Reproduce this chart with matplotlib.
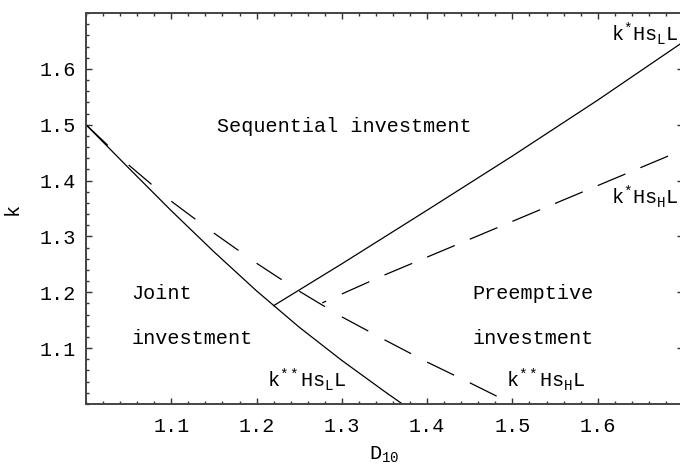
import matplotlib
matplotlib.use("Agg")
import matplotlib.pyplot as plt
from matplotlib.ticker import MultipleLocator

plt.rcParams.update({
    "font.family": "Liberation Mono",
    "mathtext.fontset": "custom",
    "mathtext.rm": "Liberation Mono",
    "mathtext.it": "Liberation Mono",
    "mathtext.tt": "Liberation Mono",
    "mathtext.bf": "Liberation Mono:bold",
    "lines.scale_dashes": False,
})

# ---- data ----
# k**(s_L): solid, joint/sequential boundary
d_kssL = [1.0, 1.05, 1.1, 1.15, 1.2, 1.25, 1.3, 1.35, 1.371]
k_kssL = [1.5, 1.4225, 1.346, 1.2725, 1.2025, 1.1375, 1.078, 1.0225, 1.0]
# k**(s_H): dashed
d_kssH = [1.0, 1.05, 1.1, 1.15, 1.2, 1.25, 1.3, 1.35, 1.4, 1.45, 1.5]
k_kssH = [1.5, 1.428, 1.363, 1.306, 1.252, 1.202, 1.156, 1.115, 1.075, 1.038, 1.0]
# k*(s_L): solid, sequential/preemptive boundary
d_ksL = [1.22, 1.3, 1.4, 1.5, 1.6, 1.7]
k_ksL = [1.176, 1.251, 1.347, 1.444, 1.544, 1.648]
# k*(s_H): dashed
d_ksH = [1.277, 1.3, 1.35, 1.4, 1.45, 1.5, 1.55, 1.6, 1.65, 1.7]
k_ksH = [1.181, 1.197, 1.231, 1.263, 1.295, 1.327, 1.359, 1.391, 1.423, 1.455]

x_ticks = [1.1, 1.2, 1.3, 1.4, 1.5, 1.6]
y_ticks = [1.1, 1.2, 1.3, 1.4, 1.5, 1.6]

fig = plt.figure(figsize=(6.8, 4.65), dpi=100)
ax = fig.add_axes([86 / 680, 1 - 404 / 465, 597 / 680, 391 / 465])
ax.set_xlim(1.0, 1.7)
ax.set_ylim(1.0, 1.7)

lw = 0.9
ax.plot(d_kssL, k_kssL, color="black", lw=lw)
ax.plot(d_ksL, k_ksL, color="black", lw=lw)

dash = (21.6, 300)
for i in range(len(d_kssH) - 1):
    ax.plot(d_kssH[i:i + 2], k_kssH[i:i + 2], color="black", lw=lw,
            linestyle=(0, dash))
for i in range(len(d_ksH) - 1):
    off = 18.5 if i == 0 else 0
    ax.plot(d_ksH[i:i + 2], k_ksH[i:i + 2], color="black", lw=lw,
            linestyle=(off, dash))

fs = 14.5
ax.text(1.1534, 1.4875, "Sequential investment", fontsize=fs, ha="left", va="baseline")
ax.text(1.053, 1.1874, "Joint", fontsize=fs, ha="left", va="baseline")
ax.text(1.053, 1.1069, "investment", fontsize=fs, ha="left", va="baseline")
ax.text(1.453, 1.1874, "Preemptive", fontsize=fs, ha="left", va="baseline")
ax.text(1.453, 1.1069, "investment", fontsize=fs, ha="left", va="baseline")
ax.text(1.6944, 1.649, r"k$^{*}$Hs$_{\mathrm{L}}$L", fontsize=fs, ha="right", va="baseline")
ax.text(1.6944, 1.358, r"k$^{*}$Hs$_{\mathrm{H}}$L", fontsize=fs, ha="right", va="baseline")
ax.text(1.212, 1.030, r"k$^{**}$Hs$_{\mathrm{L}}$L", fontsize=fs, ha="left", va="baseline")
ax.text(1.492, 1.030, r"k$^{**}$Hs$_{\mathrm{H}}$L", fontsize=fs, ha="left", va="baseline")

ax.set_xticks(x_ticks)
ax.set_yticks(y_ticks)
ax.set_xticklabels([f"{v:.1f}" for v in x_ticks])
ax.set_yticklabels([f"{v:.1f}" for v in y_ticks])
ax.xaxis.set_minor_locator(MultipleLocator(0.02))
ax.yaxis.set_minor_locator(MultipleLocator(0.02))
ax.tick_params(which="both", direction="in", top=True, right=True,
               labelsize=fs, color="#333333", width=1.0)
ax.tick_params(which="major", length=4)
ax.tick_params(which="minor", length=2.2)
ax.tick_params(axis="x", pad=9)
ax.tick_params(axis="y", pad=7.5)

for s in ax.spines.values():
    s.set_linewidth(1.4)
    s.set_color("#444444")

ax.set_xlabel(r"D$_{10}$", fontsize=fs)
ax.set_ylabel("k", fontsize=fs)
ax.xaxis.set_label_coords(0.5, -0.105)
ax.yaxis.set_label_coords(-0.108, 0.5)

fig.savefig("out.png", dpi=100)
